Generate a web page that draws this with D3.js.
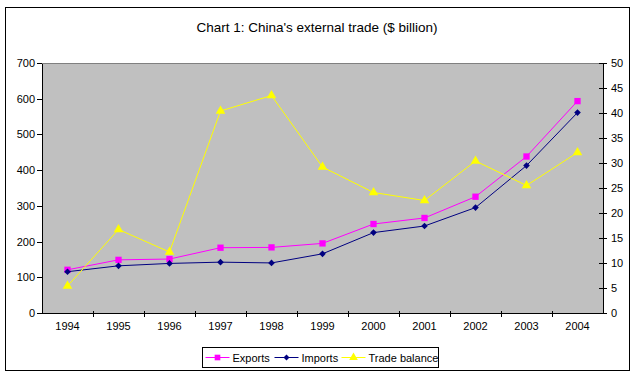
<!DOCTYPE html>
<html>
<head>
<meta charset="utf-8">
<script src="https://cdn.jsdelivr.net/npm/d3@7"></script>
<style>
  body{margin:0;background:#fff;}
  svg{display:block;font-family:"Liberation Sans",Arial,sans-serif;}
  .axis text{font-size:11px;fill:#000;}
  .axis path,.axis line{stroke:#000;shape-rendering:crispEdges;}
</style>
</head>
<body>
<div id="chart"></div>
<script>
/* China's external trade 1994-2004, $ billion */
var years=["1994","1995","1996","1997","1998","1999","2000","2001","2002","2003","2004"];
var exportsV=[121.0,148.8,151.1,182.8,183.7,194.9,249.2,266.1,325.6,438.2,593.3];
var importsV=[115.6,132.1,138.8,142.4,140.2,165.7,225.1,243.6,295.2,412.8,561.2];
var balanceV=[5.4,16.7,12.2,40.4,43.5,29.2,24.1,22.5,30.4,25.5,32.1];
var leftTicks=[0,100,200,300,400,500,600,700];
var rightTicks=[0,5,10,15,20,25,30,35,40,45,50];

var W=634,H=376;
var m={top:63,right:31,bottom:63,left:42};
var width=W-m.left-m.right, height=H-m.top-m.bottom;

var svg=d3.select("#chart").append("svg").attr("width",W).attr("height",H);

/* outer chart frame */
svg.append("rect").attr("x",5.5).attr("y",7.5).attr("width",624).attr("height",363)
  .attr("fill","#fff").attr("stroke","#000").attr("stroke-width",1);

svg.append("text").attr("x",317).attr("y",32).attr("text-anchor","middle")
  .style("font-size","13.5px").text("Chart 1: China's external trade ($ billion)");

var g=svg.append("g").attr("transform","translate("+m.left+","+m.top+")");

var x=d3.scaleBand().domain(years).range([0,width]);
var y=d3.scaleLinear().domain([0,700]).range([height,0]);
var y2=d3.scaleLinear().domain([0,50]).range([height,0]);

g.append("rect").attr("width",width).attr("height",height).attr("fill","#c0c0c0");
g.append("line").attr("x1",0).attr("x2",width).attr("y1",0.5).attr("y2",0.5)
  .attr("stroke","#808080").style("shape-rendering","crispEdges");

var xa=g.append("g").attr("class","axis").attr("transform","translate(0,"+height+")")
  .call(d3.axisBottom(x).tickSize(0).tickPadding(9));
xa.select(".domain").remove();
xa.append("line").attr("x1",0).attr("x2",width).attr("stroke","#000");
/* category separators */
g.append("g").selectAll("line").data(years.slice(1)).enter().append("line")
  .attr("x1",function(d){return x(d)+0.5;}).attr("x2",function(d){return x(d)+0.5;})
  .attr("y1",height-2).attr("y2",height+4).attr("stroke","#000");

g.append("g").attr("class","axis")
  .call(d3.axisLeft(y).tickValues(leftTicks).tickSize(5).tickSizeOuter(0).tickPadding(2));
var ra=g.append("g").attr("class","axis").attr("transform","translate("+width+",0)")
  .call(d3.axisRight(y2).tickValues(rightTicks).tickSize(4).tickSizeOuter(0).tickPadding(4));
ra.selectAll(".tick line").attr("x1",-4);

function cx(d,i){return x(years[i])+x.bandwidth()/2;}

var series=[
  {name:"Exports",vals:exportsV,scale:y,color:"#ff00ff",shape:d3.symbolSquare,size:40,rot:0},
  {name:"Imports",vals:importsV,scale:y,color:"#000080",shape:d3.symbolSquare,size:22,rot:45},
  {name:"Trade balance",vals:balanceV,scale:y2,color:"#ffff00",shape:d3.symbolTriangle,size:40,rot:0}
];

series.forEach(function(s){
  var line=d3.line().x(cx).y(function(d){return s.scale(d);});
  g.append("path").datum(s.vals).attr("d",line).attr("fill","none")
    .attr("stroke",s.color).attr("stroke-width",1);
  g.selectAll(null).data(s.vals).enter().append("path")
    .attr("transform",function(d,i){return "translate("+cx(d,i)+","+s.scale(d)+") rotate("+s.rot+")";})
    .attr("d",d3.symbol().type(s.shape).size(s.size)).attr("fill",s.color);
});

/* legend */
var lg=svg.append("g").attr("transform","translate(202.5,347.5)");
lg.append("rect").attr("width",236).attr("height",20).attr("fill","#fff").attr("stroke","#000");
var lx=[3,72,139];
series.forEach(function(s,i){
  var it=lg.append("g").attr("transform","translate("+lx[i]+",10)");
  it.append("line").attr("x1",0).attr("x2",24).attr("stroke",s.color);
  it.append("path").attr("transform","translate(12,0) rotate("+s.rot+")")
    .attr("d",d3.symbol().type(s.shape).size(s.size*0.8)).attr("fill",s.color);
  it.append("text").attr("x",27).attr("y",4).style("font-size","11px").text(s.name);
});
</script>
</body>
</html>
